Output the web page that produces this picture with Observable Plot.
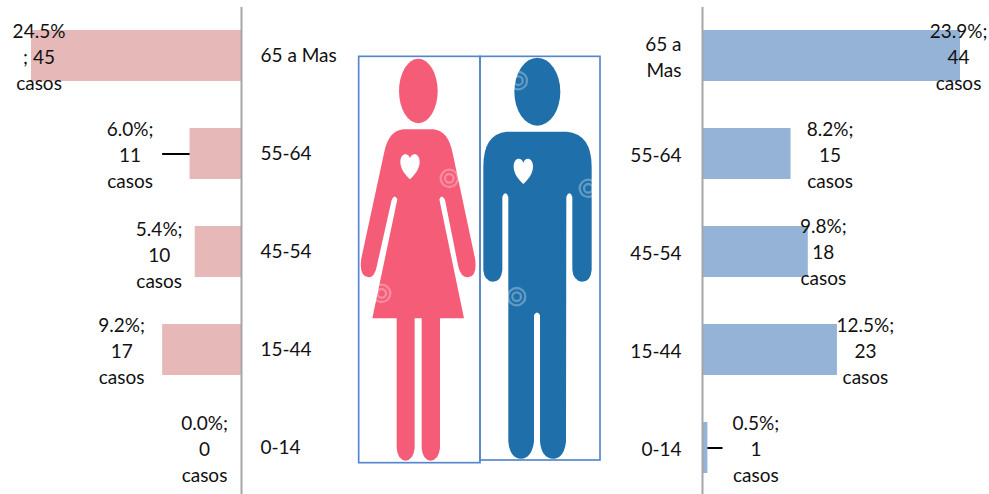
<!DOCTYPE html>
<html>
<head>
<meta charset="utf-8">
<script src="https://cdn.jsdelivr.net/npm/d3@7"></script>
<script src="https://cdn.jsdelivr.net/npm/@observablehq/plot@0.6"></script>
<style>
html,body{margin:0;padding:0;background:#fff;overflow:hidden}
#chart{display:flex;width:989px;height:494px;overflow:hidden;font-family:Lato,sans-serif}
#chart svg{display:block;flex:none;background:transparent;overflow:hidden}
</style>
</head>
<body>
<div id="chart"></div>
<script>
// Data
const ageGroups = ["65 a Mas", "55-64", "45-54", "15-44", "0-14"];
const womenPercent = [24.5, 6.0, 5.4, 9.2, 0.0];
const womenLabels = ["24.5%\n; 45\ncasos", "6.0%;\n11\ncasos", "5.4%;\n10\ncasos", "9.2%;\n17\ncasos", "0.0%;\n0\ncasos"];
const menPercent = [23.9, 8.2, 9.8, 12.5, 0.5];
const menLabels = ["23.9%;\n44\ncasos", "8.2%;\n15\ncasos", "9.8%;\n18\ncasos", "12.5%;\n23\ncasos", "0.5%;\n1\ncasos"];
const menTickLabels = ["65 a\nMas", "55-64", "45-54", "15-44", "0-14"];

// Placement of the hand-positioned data labels (pixels from the bar end)
const womenDx = [7.5, -60, -36, -41, -37];
const womenDy = [-0.5, -0.5, 1.5, -0.5, -0.5];
const menDx = [-2, 39, 15, 28, 48];
const menDy = [-0.5, -0.5, -1.5, -0.5, -0.5];

const womenRows = ageGroups.map((age, i) => ({age, value: womenPercent[i], label: womenLabels[i], dx: womenDx[i], dy: womenDy[i]}));
const menRows = ageGroups.map((age, i) => ({age, value: menPercent[i], label: menLabels[i], tick: menTickLabels[i], dx: menDx[i], dy: menDy[i]}));

const FONT = 19;
const yScale = {type: "band", domain: ageGroups, range: [6, 496], paddingInner: 0.48, paddingOuter: 0.24, align: 0.5};
const textMarks = rows => rows.map(r => Plot.text([r], {
  x: "value", y: "age", text: "label", dx: r.dx, dy: r.dy,
  fontSize: FONT, lineHeight: 1.37, fill: "#111", textAnchor: "middle"
}));
const baseStyle = {fontFamily: "Lato, sans-serif", background: "transparent", overflow: "hidden"};

// Left panel: women
const left = Plot.plot({
  width: 340, height: 494, marginTop: 7, marginBottom: 0, marginLeft: 0, marginRight: 99,
  style: baseStyle,
  x: {domain: [0, 24.5], range: [241, 31], axis: null},
  y: yScale,
  marks: [
    Plot.barX(womenRows, {x: "value", y: "age", fill: "#E6B8B7"}),
    Plot.ruleX([0], {stroke: "#A6A6A6", strokeWidth: 2}),
    Plot.ruleY(womenRows.filter(r => r.age === "55-64"), {x1: "value", x2: () => 9.2, y: "age", stroke: "#000", strokeWidth: 2}),
    ...textMarks(womenRows),
    Plot.axisY({anchor: "right", tickSize: 0, tickPadding: 19, label: null, fontSize: FONT, fill: "#111"})
  ]
});

// Centre panel: pictogram drawn in its own picture coordinates
const woman = "M190 268 L280 268 Q325 272 338 340 L405 655 Q413 708 385 712 Q362 712 355 680 L315 480 Q306 460 298 478 L372 835 L300 835 L300 1225 Q296 1260 272 1262 Q248 1260 245 1225 L245 835 L224 835 L224 1225 Q220 1260 197 1262 Q173 1260 170 1225 L170 835 L97 835 L172 478 Q163 460 155 480 L110 680 Q104 712 85 712 Q56 708 64 655 L132 340 Q145 272 190 268 Z";
const man = "M500 275 L680 275 Q755 282 755 380 L755 690 Q752 725 726 725 Q700 722 697 690 L697 470 Q688 450 679 470 L678 1205 Q672 1255 640 1256 Q605 1255 600 1205 L600 825 Q591 810 582 825 L582 1205 Q575 1255 543 1256 Q510 1255 505 1205 L505 470 Q496 450 487 470 L487 690 Q484 725 458 725 Q432 722 430 690 L430 380 Q430 282 500 275 Z";
const heart = (cx, top) => `M${cx} ${top + 76} C${cx - 15} ${top + 62} ${cx - 29} ${top + 44} ${cx - 29} ${top + 24} C${cx - 29} ${top - 4} ${cx - 5} ${top - 6} ${cx} ${top + 13} C${cx + 5} ${top - 6} ${cx + 29} ${top - 4} ${cx + 29} ${top + 24} C${cx + 29} ${top + 44} ${cx + 15} ${top + 62} ${cx} ${top + 76} Z`;
const spirals = [[328, 415, 26], [125, 760, 26], [535, 122, 26], [745, 445, 26], [530, 770, 26]];

function pictogram() {
  const g = d3.create("svg:g");
  g.append("ellipse").attr("cx", 235).attr("cy", 153).attr("rx", 58).attr("ry", 97).attr("fill", "#F45C78");
  g.append("path").attr("d", woman).attr("fill", "#F45C78");
  g.append("ellipse").attr("cx", 592).attr("cy", 155).attr("rx", 69).attr("ry", 102).attr("fill", "#1F6FAB");
  g.append("path").attr("d", man).attr("fill", "#1F6FAB");
  g.append("path").attr("d", heart(210, 342)).attr("fill", "#fff");
  g.append("path").attr("d", heart(550, 356)).attr("fill", "#fff");
  for (const [cx, cy, r] of spirals) {
    for (const k of [1, 0.5]) {
      g.append("circle").attr("cx", cx).attr("cy", cy).attr("r", r * k)
        .attr("fill", "none").attr("stroke", "#fff").attr("stroke-opacity", 0.3).attr("stroke-width", 7);
    }
  }
  g.append("rect").attr("x", 56).attr("y", 49).attr("width", 364).attr("height", 1219)
    .attr("fill", "none").attr("stroke", "#5585CC").attr("stroke-width", 5);
  g.append("rect").attr("x", 420).attr("y", 49).attr("width", 360).attr("height", 1211)
    .attr("fill", "none").attr("stroke", "#5585CC").attr("stroke-width", 5);
  return g.node();
}
const centre = Plot.plot({
  width: 280, height: 494, margin: 0,
  style: baseStyle,
  x: {domain: [0, 840], range: [0, 280], axis: null},
  y: {domain: [-120, 1362], range: [0, 494], axis: null},
  marks: [
    (index, {x, y}) => {
      const node = pictogram();
      node.setAttribute("transform", `translate(${x(0)},${y(0)}) scale(${(x(840) - x(0)) / 840})`);
      return node;
    }
  ]
});

// Right panel: men
const right = Plot.plot({
  width: 369, height: 494, marginTop: 7, marginBottom: 0, marginLeft: 82, marginRight: 0,
  style: baseStyle,
  x: {domain: [0, 23.9], range: [82, 340], axis: null},
  y: yScale,
  marks: [
    Plot.barX(menRows, {x: "value", y: "age", fill: "#95B3D7"}),
    Plot.ruleX([0], {stroke: "#A6A6A6", strokeWidth: 2}),
    Plot.ruleY(menRows.filter(r => r.age === "0-14"), {x1: "value", x2: () => 1.9, y: "age", stroke: "#000", strokeWidth: 2}),
    ...textMarks(menRows),
    Plot.axisY({anchor: "left", tickSize: 0, tickPadding: 21, label: null, fontSize: FONT, fill: "#111", lineHeight: 1.37,
      tickFormat: a => menTickLabels[ageGroups.indexOf(a)]})
  ]
});

const host = document.getElementById("chart");
host.append(left, centre, right);
</script>
</body>
</html>
